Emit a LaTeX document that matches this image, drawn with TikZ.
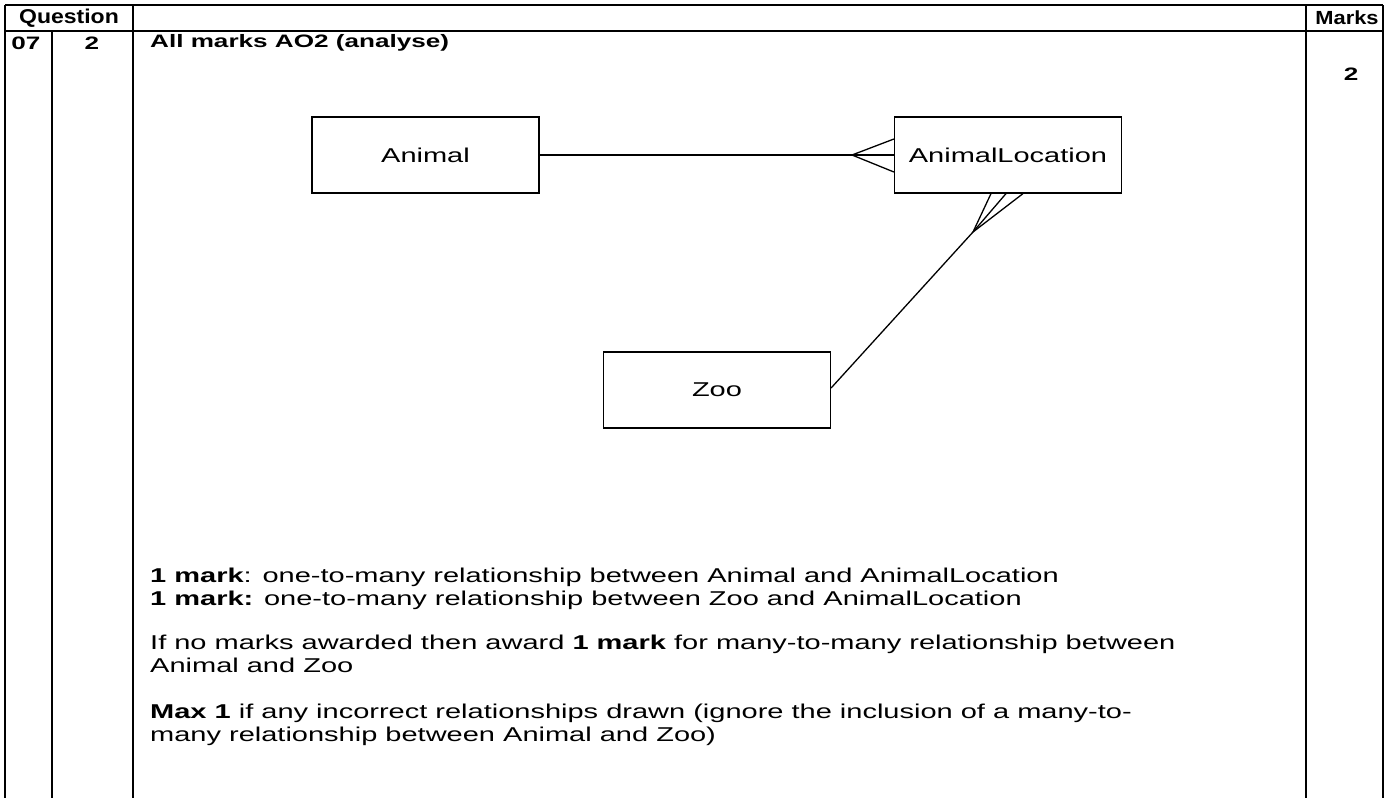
\documentclass[tikz,border=0pt]{standalone}
\usepackage{fontspec}
\setmainfont{Liberation Sans}[FakeStretch=1.45]
\newfontfamily\headfont{Liberation Sans}[FakeStretch=1.15]
\usetikzlibrary{calc}

\begin{document}
\begin{tikzpicture}[x=1pt,y=-1pt,
    grid/.style={line width=2pt},
    entity/.style={draw,line width=1.2pt,minimum width=227pt,minimum height=76pt,inner sep=0pt,font=\fontsize{20}{24}\selectfont},
    rel/.style={line width=1.3pt},
    head/.style={font=\fontsize{18}{22}\selectfont\bfseries},
    colhead/.style={font=\headfont\fontsize{20}{22}\selectfont\bfseries},
    body/.style={anchor=west,align=left,inner sep=0pt,font=\fontsize{20}{23}\selectfont}]

    \useasboundingbox (0,0) rectangle (1386,798);

    % Lignes du tableau
    \draw[grid] (5,5) -- (1383,5);
    \draw[grid] (5,31) -- (1383,31);
    \draw[grid] (5,5) -- (5,798);
    \draw[grid] (52,31) -- (52,798);
    \draw[grid] (133,5) -- (133,798);
    \draw[grid] (1306,5) -- (1306,798);
    \draw[grid] (1383,5) -- (1383,798);

    % En-tetes
    \node[colhead] (question) at (69,18) {Question};
    \node[colhead,font=\headfont\fontsize{19}{22}\selectfont\bfseries] (marks) at (1347,18) {Marks};
    \node[head] (qnum) at (26,43) {07};
    \node[head] (qpart) at (92,43) {2};
    \node[head,anchor=west,inner sep=0pt] (title) at (150,43) {All marks AO2 (analyse)};
    \node[head] (total) at (1351,74) {2};

    % Les entites
    \node[entity] (animal) at (425.5,155) {Animal};
    \node[entity] (animalloc) at (1008,155) {AnimalLocation};
    \node[entity] (zoo) at (717,390) {Zoo};

    % Sommets des pattes de corbeau
    \coordinate (apexA) at (852,155);
    \coordinate (apexZ) at (973,232);

    % Animal -- AnimalLocation
    \draw[rel] (animal.east) -- (apexA);
    \draw[rel] (apexA) -- ([yshift=16pt]animalloc.west);
    \draw[rel] (apexA) -- (animalloc.west);
    \draw[rel] (apexA) -- ([yshift=-17pt]animalloc.west);

    % Zoo -- AnimalLocation
    \draw[rel] ([yshift=2pt]zoo.east) -- (apexZ);
    \draw[rel] (apexZ) -- ([xshift=-17pt]animalloc.south);
    \draw[rel] (apexZ) -- ([xshift=-2pt]animalloc.south);
    \draw[rel] (apexZ) -- ([xshift=15pt]animalloc.south);

    % Texte du bareme
    \node[body] (mark1) at (150,577) {\textbf{1 mark}: one-to-many relationship between Animal and AnimalLocation};
    \node[body] (mark2) at (150,600) {\textbf{1 mark:} one-to-many relationship between Zoo and AnimalLocation};
    \node[body,anchor=north west] (nomark) at (150,635) {If no marks awarded then award \textbf{1 mark} for many-to-many relationship between\\Animal and Zoo};
    \node[body,anchor=north west] (max1) at (150,704) {\textbf{Max 1} if any incorrect relationships drawn (ignore the inclusion of a many-to-\\many relationship between Animal and Zoo)};
\end{tikzpicture}
\end{document}
